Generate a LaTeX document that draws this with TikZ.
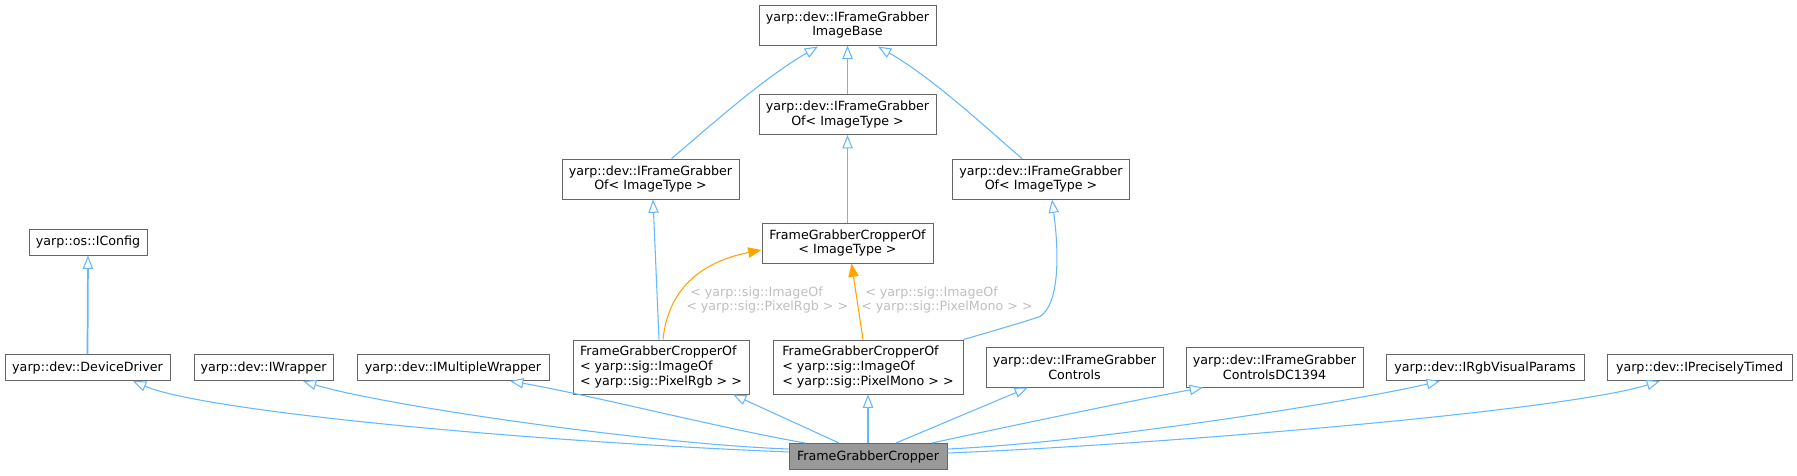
\documentclass[tikz,border=0pt]{standalone}
\usepackage{fontspec}
\setmainfont{DejaVu Sans}
\usetikzlibrary{arrows.meta,calc}
\definecolor{edgeblue}{HTML}{63B8FF}
\definecolor{nodegray}{HTML}{666666}
\definecolor{labelgray}{HTML}{BEBEBE}
\definecolor{fillgray}{HTML}{999999}
\definecolor{tmplorange}{HTML}{FFA500}
\begin{document}
\begin{tikzpicture}[x=0.75pt,y=-0.75pt,
  cls/.style={draw=nodegray, fill=white, line width=0.75pt, inner sep=0pt,
    font=\fontsize{9.5}{11}\selectfont, align=center},
  sz/.style 2 args={minimum width=#1*0.75pt, minimum height=#2*0.75pt},
  inh/.style={draw=edgeblue, line width=0.8pt,
    -{Triangle[length=10pt,width=7.8pt,fill=white,line width=0.8pt]}},
  vert/.style={line width=1.3pt},
  tmpl/.style={draw=tmplorange, line width=0.8pt,
    -{Triangle[length=10pt,width=7.8pt,fill=tmplorange]}},
  elabel/.style={text=labelgray, font=\fontsize{9.5}{11}\selectfont,
    align=left, inner sep=0pt, anchor=west},
]
\useasboundingbox (0,0) rectangle (1797,475);

% nodes
\node[cls, sz={177}{40}] (base) at (847.5,25) {yarp::dev::IFrameGrabber\\ImageBase};
\node[cls, sz={177}{40}] (ofC) at (847.5,114.5) {yarp::dev::IFrameGrabber\\Of< ImageType >};
\node[cls, sz={177}{40}] (ofL) at (650.5,179) {yarp::dev::IFrameGrabber\\Of< ImageType >};
\node[cls, sz={177}{40}] (ofR) at (1041,179) {yarp::dev::IFrameGrabber\\Of< ImageType >};
\node[cls, sz={171}{40}] (fgcof) at (847.5,243) {FrameGrabberCropperOf\\< ImageType >};
\node[cls, sz={118}{26}] (iconfig) at (88,242) {yarp::os::IConfig};
\node[cls, sz={165}{26}] (devdrv) at (87.5,367.5) {yarp::dev::DeviceDriver};
\node[cls, sz={139}{26}] (iwrap) at (263.5,367.5) {yarp::dev::IWrapper};
\node[cls, sz={192}{26}] (imulti) at (453,367.5) {yarp::dev::IMultipleWrapper};
\node[cls, sz={176}{54}, align=left] (rgb) at (661,367) {FrameGrabberCropperOf\\< yarp::sig::ImageOf\\< yarp::sig::PixelRgb > >};
\node[cls, sz={190}{54}, align=left] (mono) at (868,367) {FrameGrabberCropperOf\\< yarp::sig::ImageOf\\< yarp::sig::PixelMono > >};
\node[cls, sz={177}{40}] (ctrl) at (1074.5,367) {yarp::dev::IFrameGrabber\\Controls};
\node[cls, sz={177}{40}] (dc) at (1274.5,367) {yarp::dev::IFrameGrabber\\ControlsDC1394};
\node[cls, sz={198}{26}] (rgbvp) at (1485,367.5) {yarp::dev::IRgbVisualParams};
\node[cls, sz={185}{26}] (timed) at (1699.5,367.5) {yarp::dev::IPreciselyTimed};
\node[cls, sz={158}{26}, fill=fillgray] (fgc) at (868,456.5) {FrameGrabberCropper};

% upper hierarchy
\draw[inh, vert] (ofC.north) -- (base.south);
\draw[inh] ($(ofL.north)+(21,0)$) .. controls (700,135) and (760,80) .. ($(base.south)+(-29.5,1)$);
\draw[inh] ($(ofR.north)+(-19,0)$) .. controls (994,135) and (936,80) .. ($(base.south)+(30.5,1)$);
\draw[inh, vert] (fgcof.north) -- (ofC.south);
\draw[inh] ($(rgb.north)+(-2,0)$) -- ($(ofL.south)+(2.5,0)$);
\draw[inh] (mono.north east) .. controls (1000,329) and (1030,320) .. (1040,316.5)
  .. controls (1058,305) and (1060,260) .. ($(ofR.south)+(11,0)$);
\draw[inh, vert] (devdrv.north) -- (iconfig.south);

% template instantiations
\draw[tmpl] ($(rgb.north)+(2,0)$) .. controls (668,290) and (700,262) .. ($(fgcof.west)+(0,7)$);
\draw[tmpl] ($(mono.north)+(-5,0)$) -- ($(fgcof.south)+(4,0)$);
\node[elabel] (lrgb) at (686,300) {\hspace*{3pt}< yarp::sig::ImageOf\\< yarp::sig::PixelRgb > >};
\node[elabel] (lmono) at (861,300) {\hspace*{3pt}< yarp::sig::ImageOf\\< yarp::sig::PixelMono > >};

% bottom class inheritance
\draw[inh] ($(fgc.west)+(0,-4.5)$) .. controls (500,440) and (200,410) .. ($(devdrv.south)+(45.5,0)$);
\draw[inh] ($(fgc.west)+(0,-7.5)$) .. controls (650,444) and (380,405) .. ($(iwrap.south)+(39.5,0)$);
\draw[inh] ($(fgc.north)+(-63,0)$) .. controls (720,428) and (590,395) .. ($(imulti.south)+(57,0)$);
\draw[inh] ($(fgc.north)+(-29,0)$) -- ($(rgb.south)+(72,0)$);
\draw[inh, vert] (fgc.north) -- (mono.south);
\draw[inh] ($(fgc.north)+(28,0)$) -- ($(ctrl.south)+(-46.5,0)$);
\draw[inh] ($(fgc.north)+(64,0)$) .. controls (1010,426) and (1130,401) .. ($(dc.south)+(-71.5,0)$);
\draw[inh] ($(fgc.east)+(0,-7.5)$) .. controls (1100,442) and (1360,400) .. ($(rgbvp.south)+(-45,0)$);
\draw[inh] ($(fgc.east)+(0,-3.5)$) .. controls (1150,445) and (1560,412) .. ($(timed.south)+(-39.5,0)$);
\end{tikzpicture}
\end{document}
